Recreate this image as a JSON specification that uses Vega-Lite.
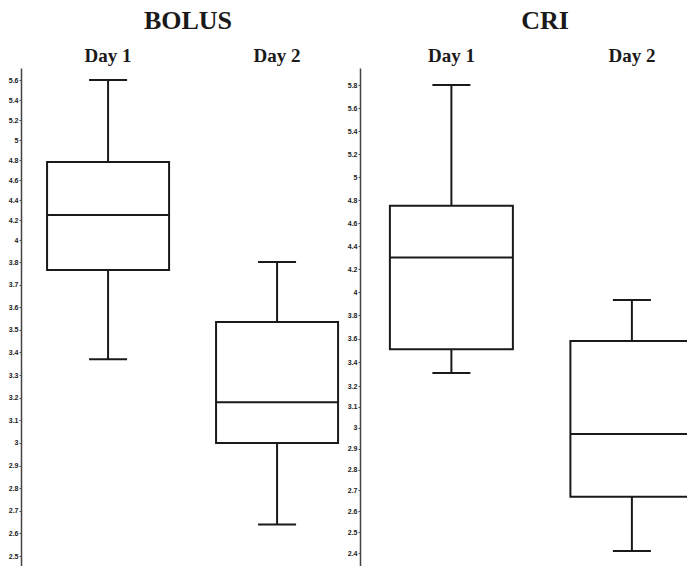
{
  "$schema": "https://vega.github.io/schema/vega-lite/v6.json",
  "padding": {"left": 0, "top": 8, "right": 0, "bottom": 0},
  "background": "white",
  "spacing": 0,
  "config": {"view": {"stroke": null}, "axis": {"grid": false, "labelOverlap": false}, "tick": {"opacity": 1}},
  "datasets": {
    "bolus": [
      {"day": "Day 1", "min": 3.37, "q1": 3.765, "median": 4.25, "q3": 4.78, "max": 5.6},
      {"day": "Day 2", "min": 2.64, "q1": 3.0, "median": 3.18, "q3": 3.535, "max": 3.8}
    ],
    "cri": [
      {"day": "Day 1", "min": 3.31, "q1": 3.51, "median": 4.3, "q3": 4.75, "max": 5.8},
      {"day": "Day 2", "min": 2.41, "q1": 2.67, "median": 2.97, "q3": 3.58, "max": 3.93}
    ]
  },
  "hconcat": [
    {
      "width": 324,
      "height": 498,
      "title": {"text": "BOLUS", "font": "Liberation Serif", "fontSize": 26, "fontWeight": "bold", "color": "#1a1a1a", "anchor": "middle", "offset": 12, "dx": 5},
      "data": {"name": "bolus"},
      "encoding": {
        "x": {
          "field": "day", "type": "nominal", "title": null,
          "scale": {"paddingInner": 0.278, "paddingOuter": 0.0976, "align": 0.79},
          "axis": {"orient": "top", "domain": false, "ticks": false, "labelAngle": 0, "labelFont": "Liberation Serif", "labelFontSize": 19, "labelFontWeight": "bold", "labelColor": "#1a1a1a", "labelPadding": 3}
        }
      },
      "layer": [
        {
          "mark": {"type": "rule", "stroke": "#1a1a1a", "strokeWidth": 2},
          "encoding": {
            "y": {
              "field": "min", "type": "quantitative", "title": null,
              "scale": {"domain": [2.456, 3.8, 4.0, 5.72], "range": [498, 194, 172, 0], "zero": false, "nice": false},
              "axis": {"values": [2.5, 2.6, 2.7, 2.8, 2.9, 3, 3.1, 3.2, 3.3, 3.4, 3.5, 3.6, 3.7, 3.8, 4, 4.2, 4.4, 4.6, 4.8, 5, 5.2, 5.4, 5.6], "tickCount": 100, "format": "~g", "labelFont": "Liberation Sans", "labelFontSize": 7, "labelFontWeight": "bold", "labelColor": "#1a1a1a", "tickSize": 2, "tickColor": "#555", "domainColor": "#444", "domainWidth": 1.5, "labelPadding": 1, "minExtent": 21, "maxExtent": 21, "labelOverlap": false, "labelFlush": false}
            },
            "y2": {"field": "max"}
          }
        },
        {
          "mark": {"type": "bar", "fill": "white", "stroke": "#1a1a1a", "strokeWidth": 2},
          "encoding": {"y": {"field": "q1", "type": "quantitative", "title": null}, "y2": {"field": "q3"}}
        },
        {
          "mark": {"type": "tick", "color": "#1a1a1a", "opacity": 1, "thickness": 2, "size": 122},
          "encoding": {"y": {"field": "median", "type": "quantitative", "title": null}}
        },
        {
          "mark": {"type": "tick", "color": "#1a1a1a", "opacity": 1, "thickness": 2, "size": 38},
          "encoding": {"y": {"field": "min", "type": "quantitative", "title": null}}
        },
        {
          "mark": {"type": "tick", "color": "#1a1a1a", "opacity": 1, "thickness": 2, "size": 38},
          "encoding": {"y": {"field": "max", "type": "quantitative", "title": null}}
        }
      ]
    },
    {
      "width": 334,
      "height": 498,
      "title": {"text": "CRI", "font": "Liberation Serif", "fontSize": 26, "fontWeight": "bold", "color": "#1a1a1a", "anchor": "middle", "offset": 12, "dx": 18},
      "data": {"name": "cri"},
      "encoding": {
        "x": {
          "field": "day", "type": "nominal", "title": null,
          "scale": {"paddingInner": 0.3186, "paddingOuter": 0.0845, "align": 0.98},
          "axis": {"orient": "top", "domain": false, "ticks": false, "labelAngle": 0, "labelFont": "Liberation Serif", "labelFontSize": 19, "labelFontWeight": "bold", "labelColor": "#1a1a1a", "labelPadding": 3}
        }
      },
      "layer": [
        {
          "mark": {"type": "rule", "stroke": "#1a1a1a", "strokeWidth": 2},
          "encoding": {
            "y": {
              "field": "min", "type": "quantitative", "title": null,
              "scale": {"domain": [2.338, 3.2, 3.8, 5.948], "range": [498, 318, 247, 0], "zero": false, "nice": false},
              "axis": {"values": [2.4, 2.5, 2.6, 2.7, 2.8, 2.9, 3, 3.1, 3.2, 3.4, 3.6, 3.8, 4, 4.2, 4.4, 4.6, 4.8, 5, 5.2, 5.4, 5.6, 5.8], "tickCount": 100, "format": "~g", "labelFont": "Liberation Sans", "labelFontSize": 7, "labelFontWeight": "bold", "labelColor": "#1a1a1a", "tickSize": 2, "tickColor": "#555", "domainColor": "#444", "domainWidth": 1.5, "labelPadding": 1, "minExtent": 15, "maxExtent": 15, "labelOverlap": false, "labelFlush": false}
            },
            "y2": {"field": "max"}
          }
        },
        {
          "mark": {"type": "bar", "fill": "white", "stroke": "#1a1a1a", "strokeWidth": 2},
          "encoding": {"y": {"field": "q1", "type": "quantitative", "title": null}, "y2": {"field": "q3"}}
        },
        {
          "mark": {"type": "tick", "color": "#1a1a1a", "opacity": 1, "thickness": 2, "size": 123},
          "encoding": {"y": {"field": "median", "type": "quantitative", "title": null}}
        },
        {
          "mark": {"type": "tick", "color": "#1a1a1a", "opacity": 1, "thickness": 2, "size": 38},
          "encoding": {"y": {"field": "min", "type": "quantitative", "title": null}}
        },
        {
          "mark": {"type": "tick", "color": "#1a1a1a", "opacity": 1, "thickness": 2, "size": 38},
          "encoding": {"y": {"field": "max", "type": "quantitative", "title": null}}
        }
      ]
    }
  ]
}
